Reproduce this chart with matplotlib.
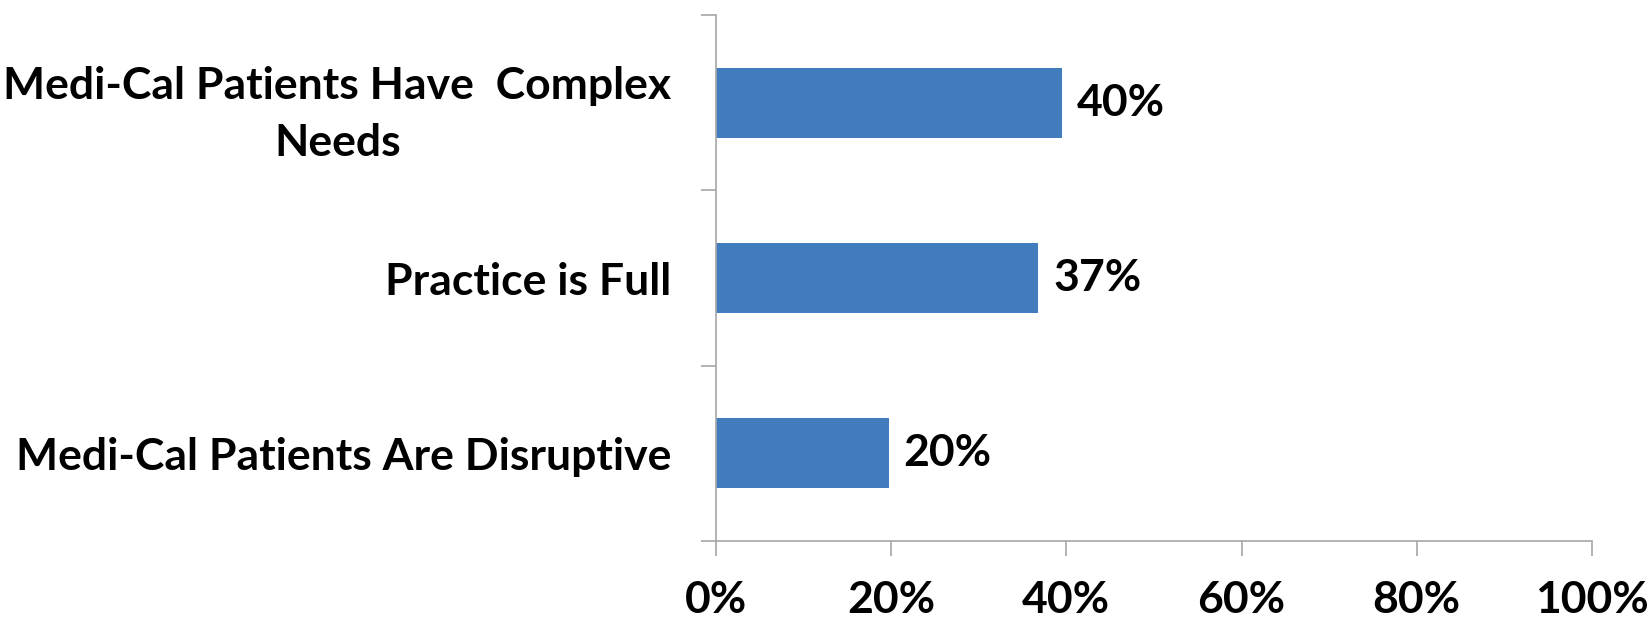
import matplotlib

matplotlib.use("Agg")
import matplotlib.pyplot as plt
from matplotlib.ticker import FixedLocator, PercentFormatter

categories = [
    "Medi-Cal Patients Have  Complex\nNeeds",
    "Practice is Full",
    "Medi-Cal Patients Are Disruptive",
]
shares = [0.395, 0.368, 0.197]
x_ticks = [0.0, 0.2, 0.4, 0.6, 0.8, 1.0]

BAR_COLOR = "#417DBC"
AXIS_COLOR = "#A6A6A6"
FS = 32

plt.rcParams["font.family"] = ["Lato", "DejaVu Sans"]
plt.rcParams["font.weight"] = "bold"

fig = plt.figure(figsize=(16.5, 6.2), dpi=100)
ax = fig.add_axes([0.4339, 0.1274, 0.9648 - 0.4339, 0.9758 - 0.1274])

# first category at the top
ypos = list(range(len(categories)))[::-1]
ax.barh(ypos, shares, height=0.4, color=BAR_COLOR)

for y, v in zip(ypos, shares):
    ax.text(v + 0.017, y, f"{round(v * 100)}%", va="center", ha="left",
            fontsize=FS, fontweight="bold", color="black")

ax.set_xlim(0, 1)
ax.set_ylim(-0.5, len(categories) - 0.5)

ax.set_xticks(x_ticks)
ax.xaxis.set_major_formatter(PercentFormatter(1.0, decimals=0))
ax.set_yticks(ypos)
ax.set_yticklabels(categories, multialignment="center", linespacing=1.5)
ax.yaxis.set_minor_locator(FixedLocator([i - 0.5 for i in range(len(categories) + 1)]))

ax.tick_params(axis="y", which="major", length=0, pad=32, labelsize=FS)
ax.tick_params(axis="y", which="minor", length=10.8, width=1.2, color=AXIS_COLOR)
ax.tick_params(axis="x", which="major", length=10.8, width=1.2, color=AXIS_COLOR,
               pad=17, labelsize=FS)

for side in ("top", "right"):
    ax.spines[side].set_visible(False)
for side in ("left", "bottom"):
    ax.spines[side].set_color(AXIS_COLOR)
    ax.spines[side].set_linewidth(1.2)

fig.savefig("out.png", dpi=100)
